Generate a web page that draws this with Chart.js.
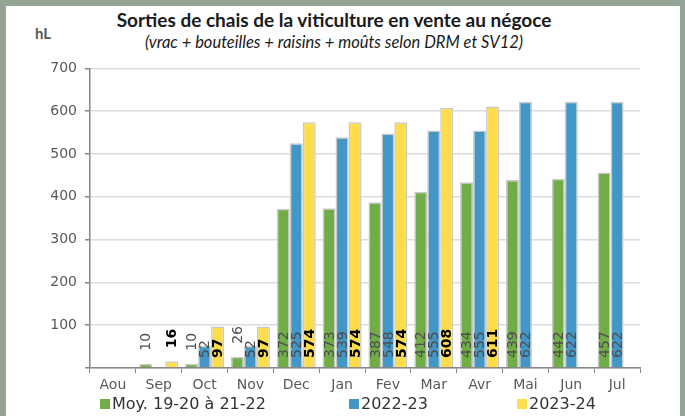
<!DOCTYPE html>
<html lang="fr">
<head>
<meta charset="utf-8">
<script src="https://cdn.jsdelivr.net/npm/chart.js@4/dist/chart.umd.min.js"></script>
<style>
    html, body { margin: 0; padding: 0; }
    body { width: 685px; height: 416px; background: #94a593; position: relative; overflow: hidden; }
    .card { position: absolute; left: 6px; top: 6px; width: 674px; height: 420px; background: #fff; }
    .title { position: absolute; left: 0; width: 668px; top: 8px; text-align: center;
             font: bold 19px Lato, sans-serif; color: #1a1a1a; line-height: 23px; }
    .subtitle { position: absolute; left: 0; width: 668px; top: 32px; text-align: center;
                font: italic 16.5px Lato, sans-serif; color: #1a1a1a; line-height: 20px; }
    .unit { position: absolute; left: 35px; top: 24px; font: bold 15px Lato, sans-serif; color: #595959; line-height: 18px; }
    .chart-box { position: absolute; left: 6px; top: 52px; width: 656px; height: 348px; }
    .legend { position: absolute; top: 394px; left: 0; height: 20px; font: 16px 'DejaVu Sans', sans-serif; color: #333; }
    .legend span { position: absolute; white-space: nowrap; line-height: 20px; }
    .legend i { position: absolute; top: 5px; width: 10px; height: 10px; }
</style>
</head>
<body>
<div class="card"></div>
<div class="title">Sorties de chais de la viticulture en vente au négoce</div>
<div class="subtitle">(vrac + bouteilles + raisins + moûts selon DRM et SV12)</div>
<div class="unit">hL</div>
<div class="chart-box"><canvas id="chart"></canvas></div>
<div class="legend" id="legend"></div>

<script>
/* =========================================
   DATA
   ========================================= */
const months = ['Aou', 'Sep', 'Oct', 'Nov', 'Dec', 'Jan', 'Fev', 'Mar', 'Avr', 'Mai', 'Jun', 'Jul'];
const seriesNames = ['Moy. 19-20 à 21-22', '2022-23', '2023-24'];
const avg1922 = [null, 10, 10, 26, 372, 373, 387, 412, 434, 439, 442, 457];
const year2223 = [null, null, 52, 52, 525, 539, 548, 555, 555, 622, 622, 622];
const year2324 = [null, 16, 97, 97, 574, 574, 574, 608, 611, null, null, null];
const yTicks = [0, 100, 200, 300, 400, 500, 600, 700];

const colors = ['#70ad47', '#4297c6', '#fedd4c'];
const labelStyles = [
    { color: '#4d4d4d', weight: 'normal' },
    { color: '#4d4d4d', weight: 'normal' },
    { color: '#000000', weight: 'bold' }
];

// Rotated value labels (no datalabels plugin available offline)
const valueLabels = {
    id: 'valueLabels',
    afterDatasetsDraw(chart) {
        const ctx = chart.ctx;
        const base = chart.scales.y.getPixelForValue(0);
        chart.data.datasets.forEach((ds, i) => {
            const meta = chart.getDatasetMeta(i);
            const st = labelStyles[i];
            meta.data.forEach((bar, j) => {
                const v = ds.data[j];
                if (v === null || v === undefined) return;
                const startY = v >= 40 ? base - 10 : bar.y - 13;
                ctx.save();
                ctx.translate(bar.x, startY);
                ctx.rotate(-Math.PI / 2);
                ctx.font = st.weight + " 14px 'DejaVu Sans', sans-serif";
                ctx.fillStyle = st.color;
                ctx.textAlign = 'left';
                ctx.textBaseline = 'middle';
                ctx.fillText(String(v), 0, 1);
                ctx.restore();
            });
        });
    }
};

const seriesData = [avg1922, year2223, year2324];

new Chart(document.getElementById('chart'), {
    type: 'bar',
    data: {
        labels: months,
        datasets: seriesData.map((d, i) => ({
            label: seriesNames[i],
            data: d,
            backgroundColor: colors[i],
            borderColor: '#c9c9c9',
            borderWidth: 1.5,
            categoryPercentage: 0.85,
            barPercentage: 1.0
        }))
    },
    options: {
        responsive: true,
        maintainAspectRatio: false,
        animation: false,
        layout: { padding: { top: 8, right: 22, bottom: 0, left: 0 } },
        plugins: {
            legend: { display: false },
            tooltip: { enabled: false }
        },
        scales: {
            x: {
                grid: { display: true, drawOnChartArea: false, drawTicks: true, tickLength: 5, tickColor: '#868686', offset: true },
                border: { display: true, color: '#868686', width: 1.5 },
                ticks: { color: '#595959', font: { family: "'DejaVu Sans', sans-serif", size: 14 }, padding: 4, maxRotation: 0 },
                afterFit: (s) => { s.height = 32; }
            },
            y: {
                min: yTicks[0],
                max: yTicks[yTicks.length - 1],
                afterBuildTicks: (s) => { s.ticks = yTicks.map(v => ({ value: v })); },
                grid: { color: '#dcdcdc', lineWidth: 1.5, tickLength: 5, tickColor: '#868686' },
                border: { display: true, color: '#868686', width: 1.5 },
                ticks: {
                    color: '#595959',
                    font: { family: "'DejaVu Sans', sans-serif", size: 14 },
                    padding: 8,
                    callback: (v) => v === 0 ? '' : v
                },
                afterFit: (s) => { s.width = 84; }
            }
        }
    },
    plugins: [valueLabels]
});

// Legend (HTML, spread out as in the reference)
const legendX = [100, 349, 517];
const legend = document.getElementById('legend');
seriesNames.forEach((name, i) => {
    const box = document.createElement('i');
    box.style.left = legendX[i] + 'px';
    box.style.background = colors[i];
    legend.appendChild(box);
    const txt = document.createElement('span');
    txt.style.left = (legendX[i] + 12) + 'px';
    txt.textContent = name;
    legend.appendChild(txt);
});
</script>
</body>
</html>
